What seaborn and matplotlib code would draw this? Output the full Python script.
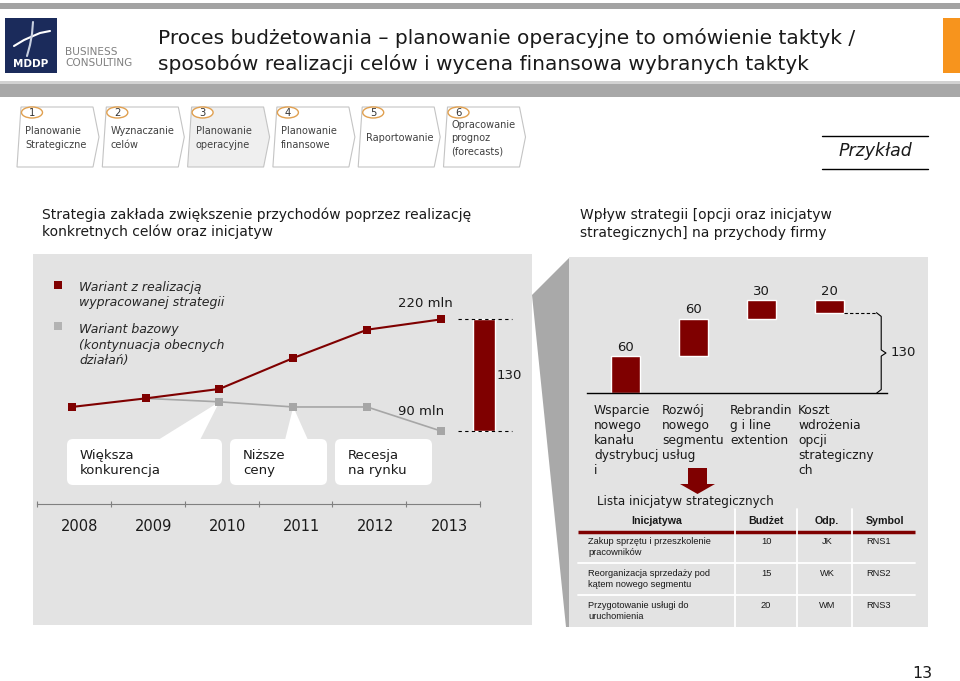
import numpy as np
import pandas as pd
import matplotlib.pyplot as plt
import seaborn as sns
from matplotlib.patches import Rectangle, Polygon, FancyBboxPatch, Ellipse

# --- data -------------------------------------------------------------
years = ['2008', '2009', '2010', '2011', '2012', '2013']
strategy_rev = [118, 128, 139, 175, 208, 220]
base_rev = [np.nan, 128, 124, 118, 118, 90]
variants = ['Wariant z realizacją\nwypracowanej strategii',
            'Wariant bazowy\n(kontynuacja obecnych\ndziałań)']

callouts = ['Większa\nkonkurencja', 'Niższe\nceny', 'Recesja\nna rynku']

options = ['Wsparcie\nnowego\nkanału\ndystrybucj\ni',
           'Rozwój\nnowego\nsegmentu\nusług',
           'Rebrandin\ng i line\nextention',
           'Koszt\nwdrożenia\nopcji\nstrategiczny\nch']
option_impact = [60, 60, 30, -20]

steps = ['Planowanie\nStrategiczne', 'Wyznaczanie\ncelów', 'Planowanie\noperacyjne',
         'Planowanie\nfinansowe', 'Raportowanie', 'Opracowanie\nprognoz\n(forecasts)']

tbl_cols = ['Inicjatywa', 'Budżet', 'Odp.', 'Symbol']
tbl_names = ['Zakup sprzętu i przeszkolenie\npracowników',
             'Reorganizacja sprzedaży pod\nkątem nowego segmentu',
             'Przygotowanie usługi do\nuruchomienia']
tbl_budget = [10, 15, 20]
tbl_owner = ['JK', 'WK', 'WM']
tbl_symbol = ['RNS1', 'RNS2', 'RNS3']

MAROON = '#7F0000'
GREY = '#A6A6A6'
PANEL = '#E3E3E3'
TXT = '#1A1A1A'

sns.set_theme(style='white')
plt.rcParams['font.family'] = ['DejaVu Sans']

W, H = 960, 681
fig = plt.figure(figsize=(9.6, 6.81), dpi=100)
bg = fig.add_axes([0, 0, 1, 1])
bg.set_xlim(0, W)
bg.set_ylim(H, 0)
bg.axis('off')


def axes_px(x0, y0, x1, y1):
    ax = fig.add_axes([x0 / W, 1 - y1 / H, (x1 - x0) / W, (y1 - y0) / H])
    ax.set_facecolor('none')
    return ax


# --- header -----------------------------------------------------------
bg.add_patch(Rectangle((0, 3), W, 6, fc='#A3A3A3', ec='none'))
bg.add_patch(Rectangle((0, 81), W, 3, fc='#D2D2D2', ec='none'))
bg.add_patch(Rectangle((0, 84), W, 13, fc='#A8A8A8', ec='none'))
bg.add_patch(Rectangle((5, 18), 52, 55, fc='#1B2B5B', ec='none'))
bg.plot([14, 24, 33, 40, 50], [46, 40, 36, 33, 31], color='white', lw=1.5)
bg.plot([33, 32, 30, 27], [22, 34, 45, 56], color='#C8D0E0', lw=1.5)
bg.text(31, 64, 'MDDP', color='white', fontsize=7.5, fontweight='bold',
        ha='center', va='center')
bg.text(65, 52, 'BUSINESS', color='#808080', fontsize=7.6, va='center')
bg.text(65, 63, 'CONSULTING', color='#808080', fontsize=7.6, va='center')
bg.add_patch(Rectangle((943, 18), 17, 55, fc='#F7941D', ec='none'))
bg.text(158, 38, 'Proces budżetowania – planowanie operacyjne to omówienie taktyk /',
        fontsize=14.5, color=TXT, va='center')
bg.text(158, 64, 'sposobów realizacji celów i wycena finansowa wybranych taktyk',
        fontsize=14.5, color=TXT, va='center')

# process chevrons
for i, lab in enumerate(steps):
    x0 = 17 + 85.3 * i
    w = 82
    pts = [(x0 + 4, 107), (x0 + w - 6, 107), (x0 + w, 137), (x0 + w - 6, 167), (x0, 167)]
    bg.add_patch(Polygon(pts, closed=True, fc='#EFEFEF' if i == 2 else 'white',
                         ec='#C4C4C4', lw=0.8))
    bg.add_patch(Ellipse((x0 + 15, 112.5), 21, 11, fc='white', ec='#E0A050', lw=1))
    bg.text(x0 + 15, 112.5, str(i + 1), fontsize=7.2, ha='center', va='center', color='#333333')
    bg.text(x0 + 8, 138, lab, fontsize=7, va='center', color='#404040', linespacing=1.4)

bg.plot([822, 928], [136, 136], color='black', lw=1)
bg.plot([822, 928], [169, 169], color='black', lw=1)
bg.text(875, 151, 'Przykład', fontsize=12.5, style='italic', ha='center', va='center', color=TXT)

bg.text(42, 223, 'Strategia zakłada zwiększenie przychodów poprzez realizację\n'
        'konkretnych celów oraz inicjatyw', fontsize=10, color=TXT, va='center', linespacing=1.2)
bg.text(580, 224, 'Wpływ strategii [opcji oraz inicjatyw\n'
        'strategicznych] na przychody firmy', fontsize=10, color=TXT, va='center', linespacing=1.3)

# --- panels -----------------------------------------------------------
bg.add_patch(Rectangle((33, 254), 499, 371, fc=PANEL, ec='none'))
bg.add_patch(Polygon([(532, 295), (569, 258), (569, 627), (566, 627)], closed=True,
                     fc='#A9A9A9', ec='none'))
bg.add_patch(Rectangle((569, 257), 359, 370, fc=PANEL, ec='none'))

# --- left: revenue scenarios -------------------------------------------
ax = axes_px(37, 255, 520, 504)
df = pd.DataFrame({
    'x': list(range(len(years))) * 2,
    'przychody': strategy_rev + base_rev,
    'wariant': [variants[0]] * len(years) + [variants[1]] * len(years),
})
sns.lineplot(data=df, x='x', y='przychody', hue='wariant',
             hue_order=[variants[1], variants[0]], palette=[GREY, MAROON],
             marker='s', markersize=5.5, markeredgewidth=0, linewidth=1.5,
             legend=False, ax=ax)
ax.lines[0].set_linewidth(1.2)
ax.set_xlim(-0.47, 6.07)
ax.set_ylim(5, 295)
ax.set_xlabel('')
ax.set_ylabel('')
ax.set_yticks([])
for s in ['top', 'left', 'right']:
    ax.spines[s].set_visible(False)
ax.spines['bottom'].set_bounds(-0.47, 5.53)
ax.spines['bottom'].set_color('#808080')
ax.spines['bottom'].set_linewidth(0.8)
ax.set_xticks(np.arange(7) - 0.47, [''] * 7)
ax.tick_params(axis='x', which='major', direction='inout', length=4, color='#808080', width=0.8, bottom=True)
ax.set_xticks(np.arange(len(years)) + 0.11, years, minor=True)
ax.tick_params(axis='x', which='minor', length=0, pad=11, labelsize=10.5, labelcolor=TXT)

gap = strategy_rev[-1] - base_rev[-1]
last = len(years) - 1
ax.bar(last + 0.58, gap, bottom=base_rev[-1], width=0.3, color=MAROON)
ax.hlines([strategy_rev[-1], base_rev[-1]], last + 0.23, last + 0.96,
          colors='black', linestyles=(0, (3, 3)), lw=0.8)
ax.text(last + 0.755, base_rev[-1] + gap / 2, f'{gap:.0f}', fontsize=9.5, va='center', color=TXT)
ax.text(last - 0.585, strategy_rev[-1] + 19, f'{strategy_rev[-1]} mln', fontsize=9.5, va='center', color=TXT)
ax.text(last - 0.585, base_rev[-1] + 23, f'{base_rev[-1]:.0f} mln', fontsize=9.5, va='center', color=TXT)

# legend (manual, like the slide)
bg.plot([58], [285], marker='s', ms=5.5, color=MAROON, mew=0)
bg.plot([58], [326], marker='s', ms=5.5, color='#B3B3B3', mew=0)
bg.text(79, 295, variants[0], fontsize=9, style='italic', va='center', color='#262626', linespacing=1.25)
bg.text(79, 345, variants[1], fontsize=9, style='italic', va='center', color='#262626', linespacing=1.25)

# callouts
to_bg = bg.transData.inverted()
boxes = [(67, 155), (230, 97), (335, 97)]
for (bx, bw), lab in zip(boxes, callouts):
    bg.add_patch(FancyBboxPatch((bx, 439), bw, 46, boxstyle='round,pad=0,rounding_size=6',
                                fc='white', ec='none'))
    bg.text(bx + 13, 463, lab, fontsize=9.5, va='center', color=TXT, linespacing=1.25)
tip1 = to_bg.transform(ax.transData.transform((2, base_rev[2])))
tip2 = to_bg.transform(ax.transData.transform((3, base_rev[3])))
bg.add_patch(Polygon([(158, 440), (200, 440), tuple(tip1)], closed=True, fc='white', ec='none'))
bg.add_patch(Polygon([(285, 440), (308, 440), tuple(tip2)], closed=True, fc='white', ec='none'))

# --- right: waterfall of strategic options ------------------------------
axr = axes_px(587, 260, 887, 393.3)
impact = np.array(option_impact)
cum = np.cumsum(impact)
bottoms = cum - impact
xs = np.arange(len(options))
axr.bar(xs, impact, bottom=bottoms, width=0.43, color=MAROON)
for x, b, v in zip(xs, bottoms, impact):
    top = max(b, b + v)
    axr.text(x, top + 4, f'{abs(v)}', ha='center', va='bottom', fontsize=9.5, color=TXT)
for x, lab in zip(xs, options):
    axr.text(x - 0.46, -17, lab, ha='left', va='top', fontsize=8.8, color=TXT, linespacing=1.2)
axr.set_xlim(-0.563, 3.845)
axr.set_ylim(0, 215)
axr.set_xticks([])
axr.set_yticks([])
for s in ['top', 'left', 'right']:
    axr.spines[s].set_visible(False)
axr.spines['bottom'].set_color('black')
axr.spines['bottom'].set_linewidth(1)

final = cum[-1]
axr.plot([xs[-1] + 0.215, 3.69], [final, final], color='black', lw=0.8, ls=(0, (3, 2)))
bx = 3.76
axr.plot([3.69, bx, bx, 3.83, bx, bx, 3.69],
         [final, final - 6, final / 2 + 5, final / 2, final / 2 - 5, 6, 0],
         color='black', lw=0.8, clip_on=False)
axr.text(3.89, final / 2, f'{final}', va='center', fontsize=9.5, color=TXT)

# arrow to the initiatives list
bg.add_patch(Polygon([(688, 468), (707, 468), (707, 484), (715, 484), (697.5, 494),
                      (680, 484), (688, 484)], closed=True, fc=MAROON, ec='none'))
bg.text(597, 501, 'Lista inicjatyw strategicznych', fontsize=8.6, va='center', color=TXT)

# --- initiatives table ----------------------------------------------------
TF = ['Liberation Sans', 'DejaVu Sans']
col_x = [657, 766, 827, 885]
for cx, c in zip(col_x, tbl_cols):
    bg.text(cx, 521, c, fontsize=7.7, fontweight='bold', ha='center', va='center', family=TF, color=TXT)
bg.plot([578, 915], [531.5, 531.5], color=MAROON, lw=2.5, solid_capstyle='butt')
for vx in [735, 797, 852]:
    bg.plot([vx, vx], [509, 627], color='white', lw=1.3)
for hy in [563, 595]:
    bg.plot([578, 915], [hy, hy], color='white', lw=1.3)
for r, (nm, bud, own, sym) in enumerate(zip(tbl_names, tbl_budget, tbl_owner, tbl_symbol)):
    y = 537 + 32 * r
    bg.text(588, y, nm, fontsize=6.7, va='top', family=TF, color=TXT, linespacing=1.25)
    bg.text(col_x[1], y, f'{bud}', fontsize=6.7, va='top', ha='center', family=TF, color=TXT)
    bg.text(col_x[2], y, own, fontsize=6.7, va='top', ha='center', family=TF, color=TXT)
    bg.text(866, y, sym, fontsize=6.7, va='top', family=TF, color=TXT)

bg.text(922, 673, '13', fontsize=11.3, ha='center', va='center', color=TXT)

fig.savefig('out.png', dpi=100)
